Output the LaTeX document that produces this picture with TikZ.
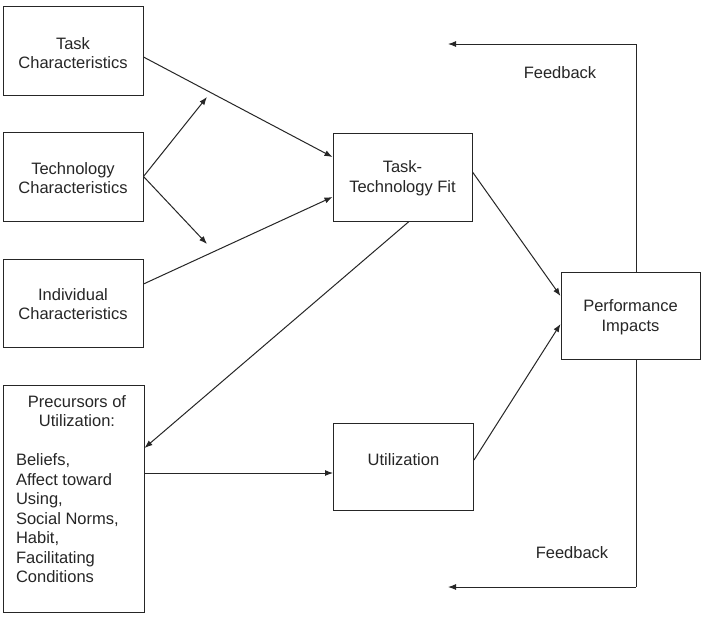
\documentclass[tikz,border=0pt]{standalone}
\usepackage{fontspec}
\setmainfont{Liberation Sans}
\usetikzlibrary{arrows.meta}
\begin{document}
\begin{tikzpicture}[x=1pt,y=-1pt,
  box/.style={draw=black!85,line width=1pt,rectangle,inner sep=0pt},
  txt/.style={align=center,font=\fontsize{16.5}{19.5}\selectfont,text=black!85},
  arr/.style={draw=black!85,line width=1pt,-{Latex[length=8pt,width=6pt]}},
  ln/.style={draw=black!85,line width=1pt}]
\useasboundingbox (0,0) rectangle (705,619);
\fill[white] (0,0) rectangle (705,619);
% boxes
\node[box,minimum width=140pt,minimum height=89pt] (task) at (73,50.5) {};
\node[txt] (tasktxt) at (73,53) {Task\\Characteristics};
\node[box,minimum width=140pt,minimum height=89pt] (tech) at (73,176.5) {};
\node[txt] (techtxt) at (73,178) {Technology\\Characteristics};
\node[box,minimum width=140pt,minimum height=88pt] (indiv) at (73,303) {};
\node[txt] (indivtxt) at (73,304) {Individual\\Characteristics};
\node[box,minimum width=141pt,minimum height=227pt] (prec) at (73.5,498.5) {};
\node[txt,align=left,anchor=north west] (prectxt) at (12.5,392)
 {\makebox[122pt]{Precursors of}\\\makebox[122pt]{Utilization:}\\[19.5pt]
  Beliefs,\\Affect toward\\Using,\\Social Norms,\\Habit,\\Facilitating\\Conditions};
\node[box,minimum width=139pt,minimum height=88pt] (ttf) at (402.5,177) {};
\node[txt] (ttftxt) at (402.5,178) {Task-\\Technology Fit};
\node[box,minimum width=140pt,minimum height=87pt] (util) at (403.5,466.5) {};
\node[txt] (utiltxt) at (403.5,460) {Utilization};
\node[box,minimum width=139pt,minimum height=87pt] (perf) at (630.5,315.5) {};
\node[txt] (perftxt) at (630.5,317) {Performance\\Impacts};
\node[txt] (fb1) at (560,73) {Feedback};
\node[txt] (fb2) at (572,553) {Feedback};
% coordinates
\coordinate (t1) at (207,97);
\coordinate (t2) at (207,244);
\coordinate (ftop) at (636,44);
\coordinate (fbot) at (636,587);
\coordinate (fend1) at (448,44);
\coordinate (fend2) at (448,587);
% arrows
\draw[arr] (task.east |- 0,57) -- (ttf.west |- 0,157);
\draw[arr] (tech.east) -- (t1);
\draw[arr] (tech.east) -- (t2);
\draw[arr] (indiv.east |- 0,284) -- (ttf.west |- 0,197);
\draw[arr] (ttf.south -| 409,0) -- (prec.east |- 0,448);
\draw[arr] (prec.east |- 0,473) -- (util.west |- 0,473);
\draw[arr] (ttf.east |- 0,172) -- (perf.west |- 0,296);
\draw[arr] (util.east |- 0,460) -- (perf.west |- 0,324);
\draw[ln] (perf.north -| ftop) -- (ftop);
\draw[arr] (ftop) -- (fend1);
\draw[ln] (perf.south -| fbot) -- (fbot);
\draw[arr] (fbot) -- (fend2);
\end{tikzpicture}
\end{document}
